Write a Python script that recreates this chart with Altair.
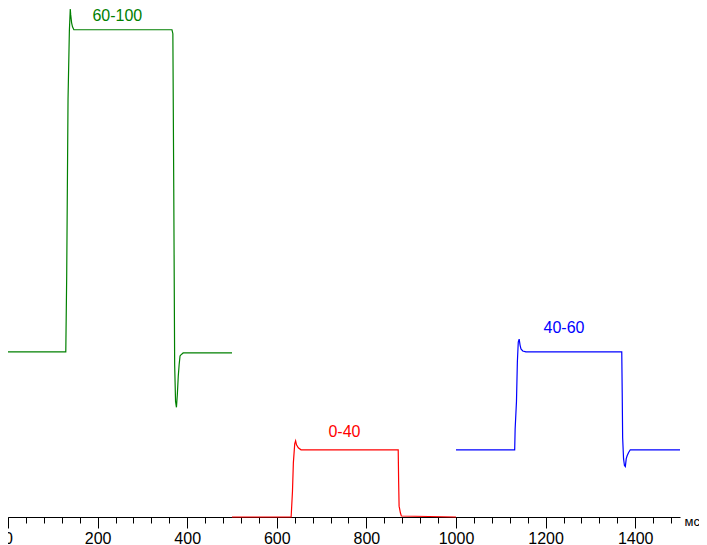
import altair as alt
import pandas as pd

# ---- data (time in ms, signal in arbitrary units) ----
green_t = [0, 129, 131, 134, 137, 139, 140, 142, 144, 147, 366, 368, 370, 372, 374, 376, 378, 380, 382, 384, 386, 391, 500]
green_v = [167, 167, 243, 423, 492, 514, 508, 500, 496, 493, 493, 489, 332, 154, 117, 111, 124, 142, 154, 163, 164, 166, 166]

red_t = [500, 632, 635, 637, 640, 642, 644, 648, 654, 871, 872, 873, 876, 878, 1000]
red_v = [0, 0, 26, 55, 74, 77, 73, 70, 68, 68, 35, 11, 4, 1, 0]

blue_t = [1000, 1131, 1132, 1135, 1137, 1139, 1141, 1143, 1145, 1149, 1156, 1370, 1371, 1372, 1374, 1376, 1378, 1380, 1382, 1385, 1389, 1500]
blue_v = [68, 68, 89, 117, 157, 177, 180, 174, 170, 168, 167, 167, 126, 80, 59, 52, 51, 59, 62, 65, 68, 68]

series_names = ["60-100", "0-40", "40-60"]
series_colors = ["#008000", "#ff0000", "#0000ff"]

label_text = ["60-100", "0-40", "40-60"]
label_t = [244, 751, 1241]
label_v = [502, 81, 186]

major_ticks = [0, 200, 400, 600, 800, 1000, 1200, 1400]
minor_ticks = list(range(0, 1500, 40))

rows = []
for name, ts, vs in zip(series_names, [green_t, red_t, blue_t], [green_v, red_v, blue_v]):
    for t, v in zip(ts, vs):
        rows.append({"series": name, "t": t, "v": v})
df = pd.DataFrame(rows)
labels = pd.DataFrame({"series": series_names, "text": label_text, "t": label_t, "v": label_v})
minor_df = pd.DataFrame({"t": minor_ticks})

FONT = "Liberation Sans"
xscale = alt.Scale(domain=[0, 1500], nice=False, zero=False)
yscale = alt.Scale(domain=[0, 515], nice=False, zero=False)
cscale = alt.Scale(domain=series_names, range=series_colors)

lines = alt.Chart(df).mark_line(strokeWidth=1.2, interpolate="linear").encode(
    x=alt.X("t:Q", scale=xscale, axis=alt.Axis(
        values=major_ticks, format="d", tickSize=11, labelFontSize=16, labelFont=FONT,
        labelColor="black", domainColor="black", tickColor="black",
        labelPadding=2, grid=False, labelFlush=False, labelOverlap=False,
        title="мс", titleFont=FONT, titleFontSize=13, titleFontWeight="normal",
        titleX=676, titleY=8, titleAlign="left", titleBaseline="alphabetic",
        titleAngle=0, orient="bottom")),
    y=alt.Y("v:Q", scale=yscale, axis=None),
    color=alt.Color("series:N", scale=cscale, legend=None),
    detail="series:N",
)

texts = alt.Chart(labels).mark_text(fontSize=16, font=FONT, align="center", baseline="alphabetic").encode(
    x=alt.X("t:Q", scale=xscale, axis=None),
    y=alt.Y("v:Q", scale=yscale, axis=None),
    text="text:N",
    color=alt.Color("series:N", scale=cscale, legend=None),
)

minor = alt.Chart(minor_df).mark_point(opacity=0).encode(
    x=alt.X("t:Q", scale=xscale, axis=alt.Axis(
        values=minor_ticks, tickSize=6, labels=False, domain=False,
        tickColor="black", grid=False, title=None, orient="bottom")),
)

chart = alt.layer(minor, lines, texts).resolve_axis(x="independent").properties(
    width=672, height=509,
    padding={"left": 0, "top": 0, "right": 19, "bottom": 28},
    autosize=alt.AutoSizeParams(type="none"),
    background="white",
).configure_view(stroke=None)

chart.save("out.html", embed_options={"renderer": "svg", "actions": False})
